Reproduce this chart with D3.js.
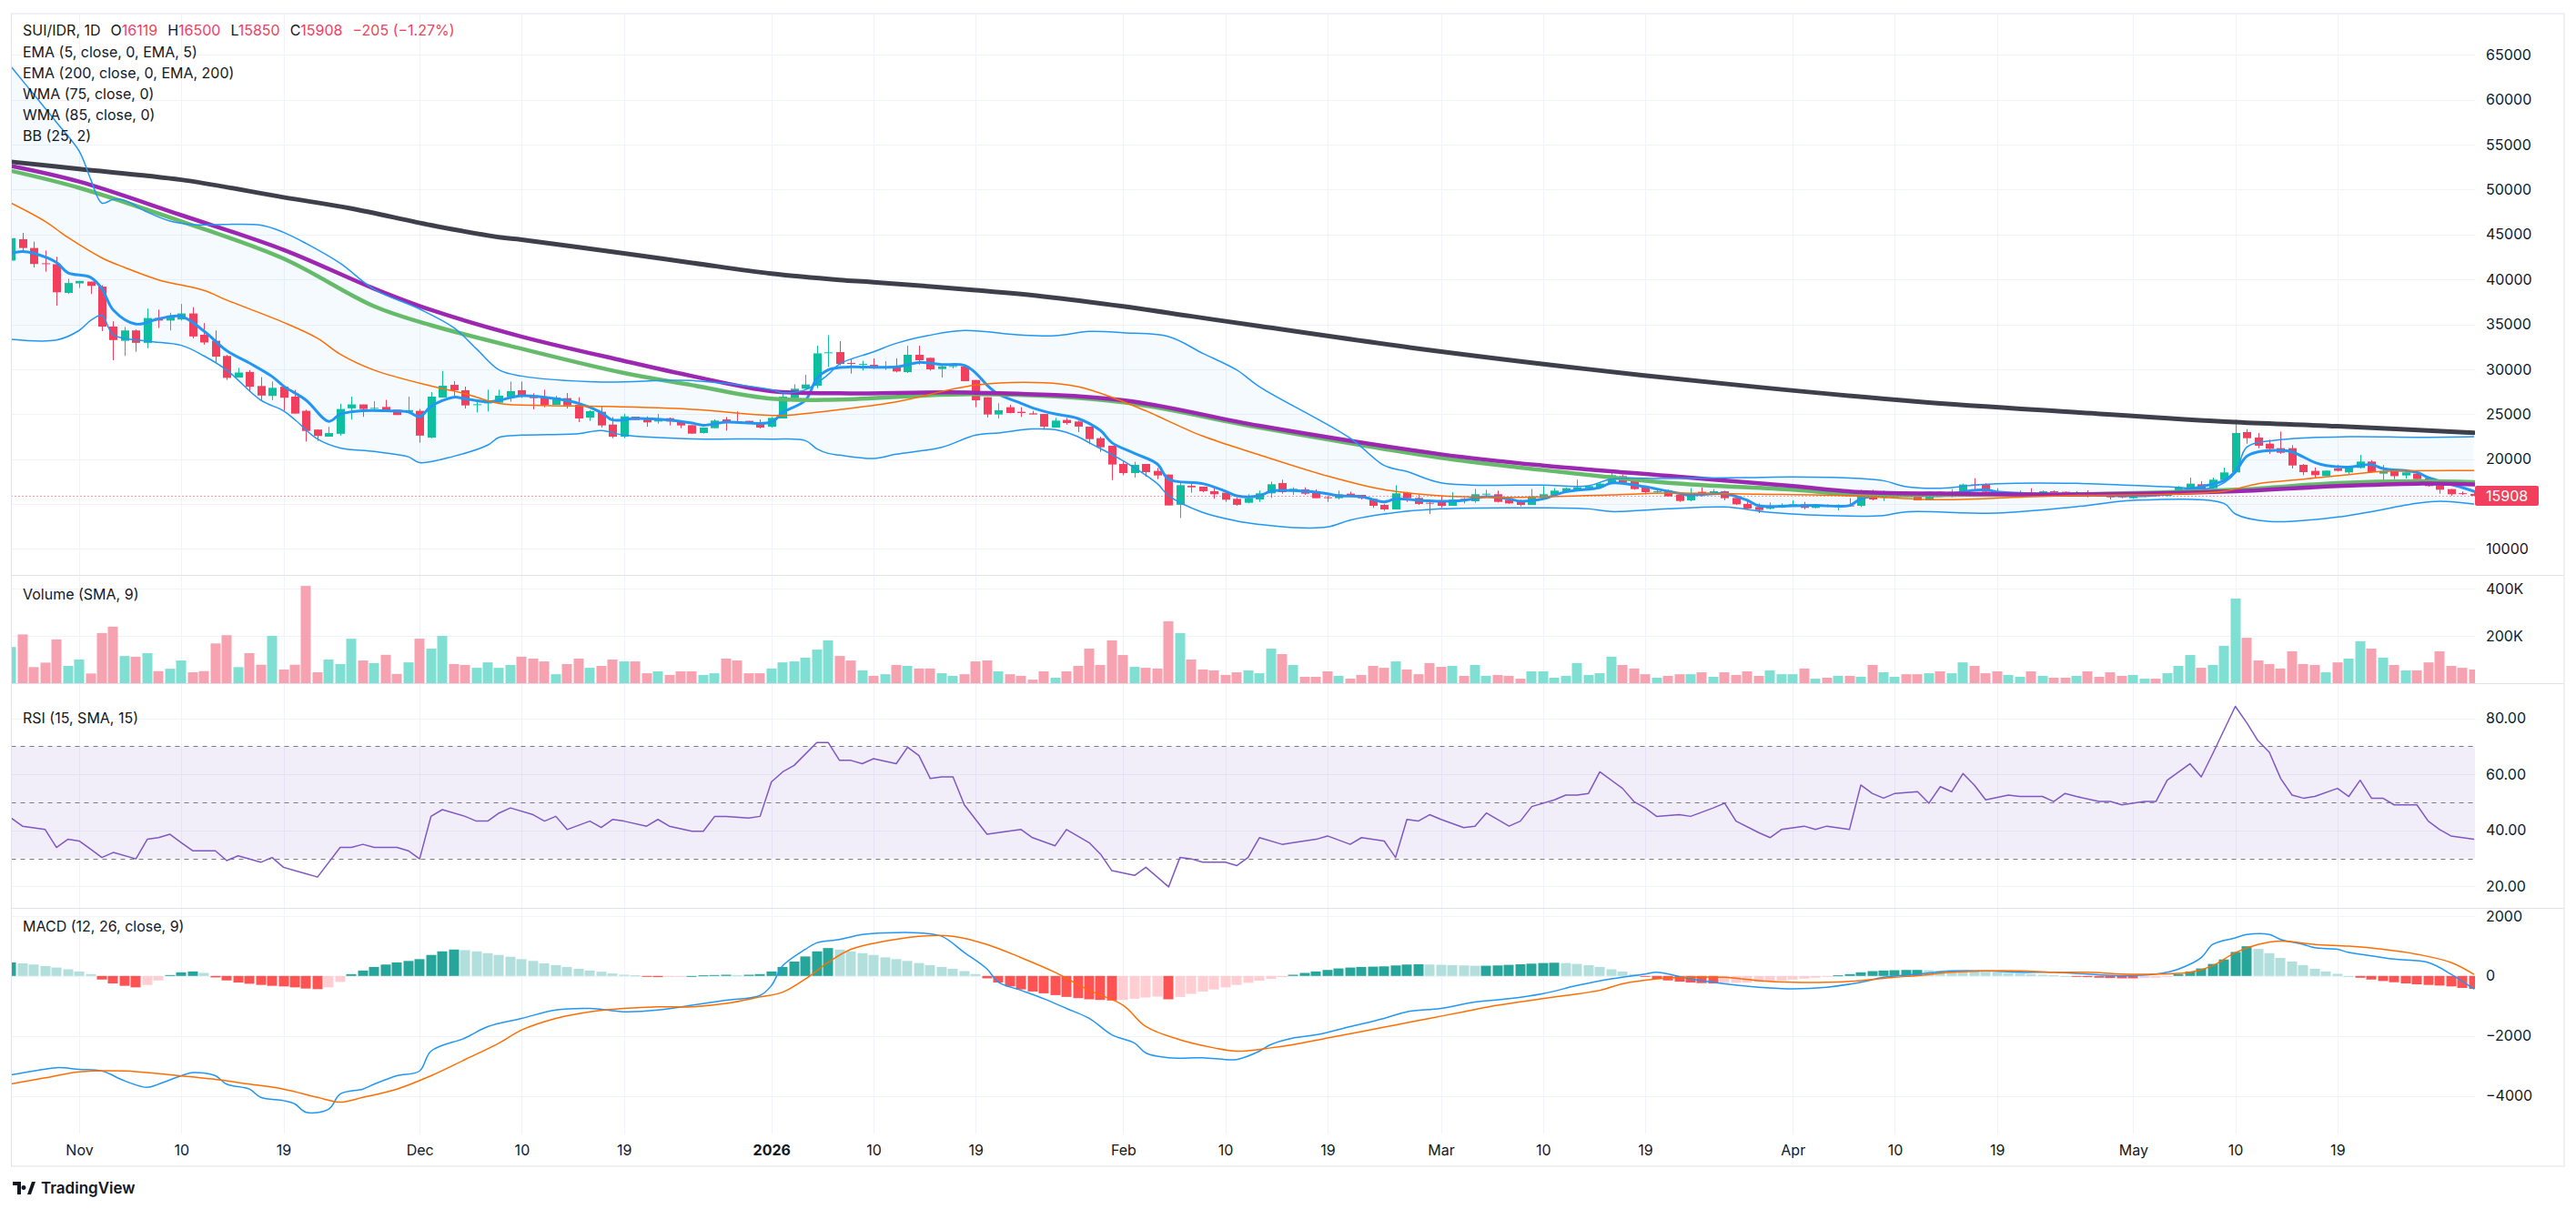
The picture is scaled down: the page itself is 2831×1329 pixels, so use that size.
<!DOCTYPE html>
<html>
<head>
<meta charset="utf-8">
<script src="https://cdn.jsdelivr.net/npm/d3@7/dist/d3.min.js"></script>
<style>
body { margin: 0; background: #fff; }
text { font-family: Inter, "Noto Sans", sans-serif; fill: #131722; }
.axis text { font-size: 16px; }
.legend text { font-size: 16px; white-space: pre; }
</style>
</head>
<body>
<div id="chart-area"></div>
<script>
// SUI/IDR daily, first candle 2025-10-26; "day" = days since that date
const firstDay = "2025-10-26";

// [open, high, low, close]
const ohlc = [
  [42100,44700,41500,44600],[44480,45190,43100,43500],[43500,44210,41330,41720],[41800,43220,40860,41700],[41700,42510,37080,38570],
  [38500,40070,38380,39600],[39560,39830,39050,39830],[39760,39760,38380,39280],[39200,39360,34240,34750],[34750,35340,31000,33250],
  [33170,34710,31480,34320],[34320,34430,31950,32940],[32940,36760,32350,35700],[35700,36640,34590,35420],[35420,36290,34320,35810],
  [35540,37270,35420,36210],[36210,36920,33450,33650],[33840,35140,32740,32980],[33170,34320,30770,31400],[31480,31600,28800,29040],
  [29080,30140,29080,29630],[29700,29900,27460,28050],[28130,29120,26550,27070],[27030,28640,26550,27930],[28050,28050,25370,26830],
  [26950,27700,25050,25060],[25370,25490,21940,23130],[23280,23280,22020,22570],[22490,23600,22490,22890],[22810,26160,22610,25570],
  [25650,26950,24390,26080],[26080,26080,24700,25570],[25600,26440,25370,25700],[25800,26590,25370,25370],[25490,25490,24900,24900],
  [25250,26950,25170,25450],[25370,25570,21820,22610],[22390,27450,22320,26950],[26850,29820,26850,28160],[28260,28670,26980,27660],
  [27660,28060,25630,25970],[26000,26370,25190,26100],[26200,27720,25290,26440],[26270,27720,26140,27050],[26880,28630,26370,27560],
  [27660,28630,26810,26980],[27050,27320,25530,26780],[26850,27720,25770,26040],[26040,27050,26040,26850],[26780,27350,25630,25970],
  [26040,26880,24110,24520],[24620,25430,24250,25330],[25260,25870,23500,23740],[23840,24680,22320,22490],[22490,25020,22320,24750],
  [24720,24720,24350,24350],[24410,24750,23600,24080],[24180,25020,23940,24520],[24550,24620,23740,24180],[24110,24110,23440,23740],
  [23770,23770,22830,22830],[22900,23500,22830,23500],[23440,24410,23440,24280],[24410,24680,23170,24110],[24180,25290,24110,24110],
  [24250,24250,24010,24080],[24010,24410,23400,23500],[23600,24680,23500,24580],[24520,27290,24520,26950],[26780,28330,26640,27830],
  [27830,29380,27830,28300],[28160,32620,27890,31770],[31800,33800,30260,31880],[31910,33130,30430,30590],[30700,31200,29510,30590],
  [30560,30930,29850,30590],[30490,31200,30020,30190],[30190,30900,29920,30320],[30190,31200,29650,29750],[29680,32620,29580,31610],
  [31610,32620,30530,31000],[31270,31270,29850,29990],[30020,30490,29070,30320],[30290,30660,30090,30360],[30320,30490,28670,28670],
  [28800,28800,25770,26540],[26880,26880,24620,24960],[24960,26210,24520,25430],[25770,26040,25090,25120],[25260,25770,24690,25120],
  [25090,25360,24960,24960],[25020,25020,23270,23610],[23500,24580,23500,24280],[24350,24580,23840,24010],[24180,24280,23000,23610],
  [23610,23610,21650,22220],[22320,22490,20800,21310],[21480,21480,17660,19390],[19450,19720,18200,18440],[18440,19690,17930,19350],
  [19450,19450,18040,18540],[18680,19010,17760,18170],[18270,18270,14830,14830],[14900,17430,13440,17090],[17020,17430,16250,16850],
  [16920,16920,16310,16420],[16420,16750,15570,16080],[16250,16250,15230,15470],[15570,15740,14790,14900],[15130,16080,15070,15640],
  [15500,16480,15230,16180],[16180,17490,15670,17190],[17320,17700,16140,16310],[16410,16850,16010,16680],[16620,16850,16010,16140],
  [16280,16620,15640,15640],[15740,15910,15230,15640],[15640,16480,15500,16080],[16140,16350,15910,16010],[16010,16010,15500,15640],
  [15570,15570,14560,14790],[14890,15000,14220,14390],[14390,17090,14390,16180],[16240,16350,15230,15640],[15670,16010,14890,15000],
  [15130,15470,13880,15060],[15230,15810,14560,14790],[14790,16310,14790,15470],[15570,15670,15060,15470],[15300,16680,15130,16080],
  [16080,16580,15740,16140],[16080,16480,15160,15230],[15470,15470,15000,15060],[15230,15470,14730,14890],[14890,16680,14890,15840],
  [15810,16990,15570,16080],[16010,16750,15910,16480],[16410,16850,16240,16750],[16580,17700,16480,16850],[16750,16990,16650,16990],
  [16850,17430,16750,17260],[17320,18440,17260,18200],[18100,18270,17260,17360],[17530,17830,16580,16650],[16850,16850,16080,16310],
  [16310,16680,16180,16410],[16480,16580,15840,15840],[16010,16010,15230,15330],[15400,16750,15300,16010],[16350,16850,15810,16140],
  [16140,16650,16080,16410],[16410,16480,15400,15640],[15670,15910,14890,14960],[15000,15400,14390,14490],[14660,15060,13980,14320],
  [14460,15160,14390,14660],[14620,15060,14560,14890],[14890,15400,14830,14960],[14960,15230,14390,14560],[14560,14960,14490,14890],
  [14890,14960,14660,14730],[14730,14960,14290,14790],[14830,15640,14730,14730],[14790,16580,14660,16310],[16410,16580,15400,15500],
  [15670,16480,15330,16080],[15740,16410,15670,16140],[16240,16410,15740,15910],[16140,16140,15400,15400],[15400,16410,15400,16350],
  [16350,16410,15840,15840],[15810,16650,15740,16350],[16310,17260,16240,17160],[17160,17870,16580,17090],[17190,17320,16240,16350],
  [16410,16750,15810,15910],[15910,16310,15840,16240],[16180,16480,16080,16240],[16240,16750,16010,16080],[16140,16510,16080,16410],
  [16410,16510,16240,16310],[16350,16410,16010,16080],[16080,16410,16010,16300],[16310,16520,15740,15910],[16080,16080,15840,15840],
  [15910,16180,15500,15740],[15910,15980,15640,15740],[15640,15910,15570,15910],[15840,16000,15740,15910],[16000,16080,15840,15910],
  [15910,16480,15840,16180],[16080,16990,15980,16820],[16680,17930,16680,17260],[17190,17530,16680,16680],[16750,17930,16650,17700],
  [17660,19050,17660,18510],[18510,24410,18440,22900],[23000,23330,21710,22320],[22390,22900,21210,21480],[21710,22150,20570,21140],
  [21210,23060,20570,20700],[21210,21550,18950,19280],[19350,19450,18200,18540],[18680,19050,17930,18200],[18100,18710,18100,18710],
  [18950,19350,18610,18680],[18510,19110,18270,19050],[19010,20470,18950,19720],[19720,19860,18440,18540],[18370,19350,17600,18680],
  [18710,18880,17760,18100],[18170,18680,17830,18510],[18370,18680,17700,17760],[17870,18000,16920,16990],[17020,17020,16140,16580],
  [16650,16650,15910,16080],[16200,16380,16000,16113],[16119,16500,15850,15908]
];

// volume, thousands
const volumeK = [
  153,206,68,87,185,73,100,41,212,239, 115,112,127,51,61,96,46,51,168,203,
  68,127,78,200,58,78,411,46,100,81, 188,96,85,120,39,88,188,146,200,81,
  77,65,88,65,77,112,104,92,38,81, 104,65,73,100,92,92,42,50,35,50,
  50,35,42,104,96,42,42,62,88,92, 108,142,181,115,96,54,31,38,77,73,
  62,62,42,31,38,92,96,50,38,31, 15,50,23,50,73,146,77,181,119,69,
  65,62,262,212,100,58,54,35,46,54, 42,146,123,77,27,27,50,31,19,35,
  73,65,92,58,38,85,69,73,31,77, 31,35,31,19,50,50,23,31,85,35,
  42,112,77,62,38,23,31,38,38,46, 27,46,35,50,31,54,38,38,62,19,
  23,31,31,27,77,46,27,38,38,42, 50,42,88,73,42,50,35,27,50,31,
  23,23,31,50,27,46,31,35,19,19, 42,73,119,65,77,158,358,192,96,81,
  62,135,81,77,46,88,104,177,146,108, 77,54,54,88,135,73,65,58
];

// [day, value]
const ema5 = [[0,42910],[1,43100],[2,42910],[4,41900],[5,40740],[7,40230],[8,38970],[9,36600],[11,35030],[13,35620],[15,35890],[17,34240],[19,32070],[21,30690],[23,29190],[24,28130],[26,26550],[28,24190],[29,24980],[31,25370],[33,25370],[35,25250],[36,24700],[37,25870],[39,26880],[40,26710],[42,26370],[43,26540],[45,27050],[48,26710],[50,26200],[52,25190],[53,24350],[55,24520],[58,24350],[60,24010],[61,23770],[63,24110],[67,24110],[68,25190],[70,26540],[71,28970],[72,29920],[73,30190],[74,30260],[78,30260],[80,30760],[82,30530],[84,30430],[85,29580],[86,28230],[87,27220],[89,26200],[90,25700],[92,25020],[94,24520],[96,23170],[97,21820],[99,20630],[101,19450],[102,17760],[105,17260],[107,16420],[108,15910],[110,15900],[111,16410],[113,16480],[116,16140],[117,15910],[119,15810],[121,15230],[122,15570],[124,15400],[126,15300],[128,15400],[130,15810],[132,15570],[133,15300],[135,15570],[137,16350],[140,16820],[141,17320],[144,16920],[146,16410],[148,16010],[151,16140],[153,15400],[154,14790],[157,14790],[159,14830],[162,14830],[163,15570],[165,16010],[167,16080],[170,15910],[172,16350],[174,16580],[175,16350],[178,16140],[182,16100],[186,15910],[189,15970],[191,16410],[193,16920],[195,17600],[196,18610],[197,20300],[198,20800],[200,20970],[201,20800],[203,19620],[204,19280],[206,19110],[208,19380],[209,18950],[212,18510],[213,17930],[216,16820],[217,16410]];
const ema200 = [[0,53100],[6,52300],[15,51100],[24,49150],[30,47900],[37,46050],[43,44700],[45,44430],[54,42900],[60,41850],[67,40650],[73,39950],[76,39700],[85,38800],[91,38100],[98,37000],[104,35900],[110,34800],[124,32300],[139,30000],[154,28000],[168,26400],[182,25200],[196,24100],[205,23650],[217,22930]];
const wma75 = [[0,52090],[6,50200],[15,46460],[24,42320],[32,37000],[37,34900],[45,32280],[54,29580],[60,28230],[67,26710],[73,26620],[85,27220],[98,26310],[110,23500],[126,20130],[135,18780],[146,17360],[157,16580],[163,16010],[172,16010],[182,16060],[196,16580],[205,17330],[212,17530],[217,17430]];
const wma85 = [[0,52640],[6,50900],[15,47160],[24,43300],[32,38970],[37,36600],[45,33630],[54,30930],[60,29240],[67,27550],[73,27320],[85,27390],[98,26540],[110,23700],[126,20530],[135,19280],[146,18130],[157,16990],[163,16310],[172,16140],[182,16050],[196,16410],[205,16990],[212,17260],[217,17160]];
const bbUpper = [[0,63700],[2,60600],[4,57500],[6,54300],[7,51200],[8,48500],[9,48900],[10,48800],[12,47500],[14,46500],[16,46100],[22,46050],[24,45250],[26,44000],[29,41800],[32,38900],[36,36700],[39,34640],[41,32280],[43,29920],[45,29240],[52,28570],[60,28740],[67,27720],[68,27390],[70,27720],[72,29410],[73,30590],[76,31940],[78,32890],[81,33800],[84,34310],[89,33800],[92,33730],[95,34210],[98,34070],[102,33630],[105,31780],[108,29920],[110,28060],[118,22320],[121,19280],[123,18610],[126,17360],[135,17090],[139,17020],[141,17760],[146,17830],[153,17930],[157,18000],[163,17830],[165,17590],[167,16920],[170,16750],[173,17090],[175,17260],[182,17290],[190,16920],[194,16820],[196,18440],[197,21310],[200,22150],[206,22490],[212,22420],[217,22490]];
const bbLower = [[0,33330],[4,33250],[6,34320],[7,35420],[8,36010],[9,33840],[12,33130],[15,32660],[17,31480],[19,29900],[22,26550],[24,25370],[25,24390],[27,22220],[29,21230],[32,20840],[35,20250],[36,19600],[39,20300],[42,21550],[43,22420],[45,22660],[50,22830],[52,23170],[54,22660],[60,22250],[67,22220],[70,22050],[71,21140],[72,20630],[73,20430],[76,20060],[78,20530],[82,21310],[85,22660],[87,22900],[90,23340],[92,23270],[94,22490],[95,21820],[98,19790],[101,17260],[102,15910],[105,14050],[108,13100],[110,12720],[113,12360],[116,12430],[118,13200],[121,13880],[126,14450],[135,14560],[139,14450],[141,14150],[146,14450],[151,14660],[155,14050],[162,13640],[165,13710],[167,14120],[175,13980],[182,14690],[187,15400],[195,15060],[196,13880],[199,13040],[205,13540],[212,15060],[214,15300],[217,15000]];
const bbBasis = [[0,48500],[3,46460],[5,44680],[8,42400],[10,41330],[13,39950],[17,38770],[19,37700],[24,35220],[27,33450],[29,31680],[32,29900],[37,28130],[40,27280],[43,26200],[47,25970],[52,25870],[60,25530],[66,24920],[68,24850],[71,25190],[73,25500],[78,26370],[85,28230],[91,28500],[94,28060],[97,26880],[100,25360],[105,22560],[110,20470],[116,18100],[121,16580],[126,15910],[133,15740],[141,16010],[146,16200],[154,16080],[162,15910],[170,15470],[178,15810],[182,15950],[190,16080],[195,16410],[198,17260],[202,17760],[206,18270],[209,18610],[217,18710]];

const rsi = [[0,44.4],[1,41.5],[3,40.3],[4,33.9],[5,36.8],[6,36.2],[7,33.3],[8,30.3],[9,32.1],[11,29.8],[12,36.8],[13,37.4],[14,38.6],[15,35.6],[16,32.7],[18,32.7],[19,29.2],[20,30.9],[22,28.6],[23,30.3],[24,26.8],[25,25.6],[26,24.5],[27,23.3],[29,33.9],[30,33.9],[31,35],[32,33.9],[34,33.9],[35,32.7],[36,29.8],[37,45],[38,47.4],[40,45],[41,43.3],[42,43.3],[43,46.2],[44,48],[46,45.6],[47,43.3],[48,45],[49,40.3],[51,43.3],[52,41],[53,43.9],[54,43.3],[56,41.5],[57,43.9],[58,41.5],[60,39.7],[61,39.7],[62,45],[63,45],[65,44.4],[66,45],[67,57.3],[68,60.9],[69,63.2],[71,71.4],[72,71.4],[73,65],[74,65],[75,63.8],[76,65.6],[78,63.8],[79,69.7],[80,66.7],[81,58.5],[82,59.1],[83,59.1],[84,49.1],[86,38.6],[87,39.2],[89,40.3],[90,37.4],[92,34.5],[93,40.3],[95,35.6],[96,31.5],[97,25.6],[99,23.9],[100,26.8],[102,19.8],[103,30.3],[104,29.8],[105,28.6],[107,28.6],[108,27.4],[109,30.3],[110,37.4],[112,35],[113,35.6],[115,36.8],[116,38],[118,35],[119,37.4],[121,36.2],[122,30.3],[123,43.9],[124,43.3],[125,45.6],[126,43.9],[128,41],[129,41.5],[130,46.2],[132,41.5],[133,43.3],[134,48.5],[136,50.9],[137,52.6],[138,52.6],[139,53.2],[140,60.9],[142,55],[143,50.3],[144,48],[145,45],[147,45.6],[148,45],[150,48],[151,49.7],[152,43.3],[154,39.2],[155,37.4],[156,40.3],[158,41.5],[159,40.3],[160,41.5],[162,40.3],[163,56.2],[164,53.2],[165,51.5],[166,53.2],[168,53.8],[169,49.7],[170,55.6],[171,53.8],[172,60.3],[173,56.2],[174,50.9],[176,52.6],[177,52.1],[179,52.1],[180,50.3],[181,53.2],[182,52.1],[184,50.3],[185,50.3],[186,49.1],[188,50.3],[189,50.3],[190,57.9],[192,63.8],[193,59.1],[194,67.3],[196,84.3],[197,78.5],[198,72],[199,67.9],[200,58.5],[201,52.6],[202,51.5],[203,52.1],[205,55],[206,52.1],[207,57.9],[208,51.5],[209,51.5],[210,49.1],[212,49.1],[213,43.3],[214,40.3],[215,38],[216,37.4],[217,36.8]];

const macdLine = [[0,-3300],[2,-3170],[4,-3060],[6,-3115],[8,-3170],[10,-3500],[12,-3720],[13,-3610],[15,-3330],[16,-3225],[18,-3330],[19,-3610],[21,-3775],[22,-4050],[24,-4160],[25,-4270],[26,-4550],[28,-4440],[29,-3940],[31,-3775],[32,-3610],[34,-3330],[36,-3170],[37,-2510],[40,-2070],[42,-1690],[45,-1415],[48,-1140],[51,-1085],[54,-1195],[57,-1140],[60,-980],[63,-810],[66,-650],[67,-320],[68,340],[70,890],[71,1105],[73,1215],[75,1380],[77,1435],[80,1435],[82,1325],[84,780],[86,230],[87,-210],[89,-480],[91,-760],[93,-1085],[95,-1415],[97,-1965],[99,-2240],[100,-2570],[102,-2730],[105,-2730],[107,-2790],[108,-2790],[110,-2510],[111,-2290],[113,-2070],[115,-1965],[118,-1690],[121,-1415],[123,-1195],[126,-1085],[129,-870],[132,-760],[135,-590],[138,-320],[141,-100],[144,60],[145,120],[148,-100],[151,-265],[154,-375],[157,-430],[160,-375],[163,-210],[165,-45],[168,60],[171,170],[174,170],[177,120],[180,120],[183,60],[186,10],[189,60],[191,230],[193,610],[194,1050],[196,1270],[197,1380],[199,1380],[200,1215],[202,1050],[203,940],[205,890],[206,780],[208,670],[210,560],[213,450],[215,60],[217,-430]];
const macdSignal = [[0,-3600],[3,-3400],[6,-3200],[10,-3170],[14,-3300],[18,-3450],[21,-3610],[24,-3775],[27,-4050],[29,-4210],[31,-4050],[34,-3775],[37,-3330],[40,-2790],[43,-2240],[45,-1800],[48,-1415],[51,-1195],[54,-1085],[57,-1030],[60,-1030],[63,-920],[66,-700],[68,-540],[70,-100],[72,450],[74,890],[77,1160],[80,1325],[83,1325],[86,1050],[89,610],[92,120],[95,-480],[98,-980],[100,-1690],[103,-2130],[106,-2400],[108,-2510],[111,-2400],[113,-2290],[116,-2070],[119,-1855],[122,-1635],[125,-1415],[128,-1195],[131,-980],[134,-810],[137,-650],[140,-480],[142,-265],[145,-100],[148,-45],[151,-45],[154,-155],[157,-210],[160,-210],[163,-155],[166,-45],[168,10],[171,120],[174,170],[177,170],[180,120],[183,120],[186,60],[189,60],[192,120],[194,340],[196,780],[198,1050],[200,1160],[203,1050],[206,995],[209,890],[212,725],[215,450],[217,60]];
// histogram, one per candle
const macdHist = [
  450,420,380,330,280,220,150,60,-120,-250, -330,-380,-300,-150,30,120,150,100,-50,-150,
  -220,-260,-300,-330,-350,-380,-420,-440,-380,-200, 60,180,300,380,450,500,560,700,820,880,
  860,820,760,700,640,560,500,420,360,300, 240,180,140,80,40,20,-20,-40,-30,-20,
  0,20,30,40,30,40,60,150,300,480, 650,820,930,880,820,760,700,620,560,500,
  430,360,300,240,160,60,-80,-220,-350,-450, -520,-580,-640,-700,-740,-780,-800,-820,-800,-760,
  -720,-690,-780,-700,-600,-520,-450,-380,-300,-230, -160,-100,-40,40,100,150,200,250,280,300,
  310,320,350,380,390,380,370,360,350,340, 340,350,370,390,410,430,440,430,400,360,
  300,220,150,60,-30,-100,-150,-190,-220,-240, -250,-240,-230,-220,-200,-180,-150,-120,-90,-60,
  -30,20,60,120,160,180,190,200,200,190, 180,170,160,150,140,120,100,80,60,40,
  20,0,-20,-40,-60,-70,-80,-80,-70,-60, -20,60,150,250,400,550,800,990,900,760,
  600,480,360,240,150,70,0,-60,-120,-170, -210,-250,-280,-300,-320,-350,-400,-430
];

const priceTicks = [10000,15000,20000,25000,30000,35000,40000,45000,50000,55000,60000,65000];
const volumeTicks = [200,400];
const rsiTicks = [20,40,60,80];
const rsiLevels = [70,50,30];
const macdTicks = [-4000,-2000,0,2000];
const timeTicks = [
  ["2025-11-01","Nov"],["2025-11-10","10"],["2025-11-19","19"],["2025-12-01","Dec"],["2025-12-10","10"],["2025-12-19","19"],
  ["2026-01-01","2026"],["2026-01-10","10"],["2026-01-19","19"],["2026-02-01","Feb"],["2026-02-10","10"],["2026-02-19","19"],
  ["2026-03-01","Mar"],["2026-03-10","10"],["2026-03-19","19"],["2026-04-01","Apr"],["2026-04-10","10"],["2026-04-19","19"],
  ["2026-05-01","May"],["2026-05-10","10"],["2026-05-19","19"]
];
const lastClose = 15908;

const chartSize = { width: 2831, height: 1329 };
const plotLeft = 12.5, plotRight = 2720, axisRight = 2818;
const panes = {
  main: { top: 15, bottom: 632 },
  volume: { top: 632, bottom: 751 },
  rsi: { top: 751, bottom: 998 },
  macd: { top: 998, bottom: 1246 }
};
const timeAxisBottom = 1282;
const upColor = "#0DBF9E", downColor = "#F23F5E";

const parseDay = d3.utcParse("%Y-%m-%d");
const start = parseDay(firstDay);
const dayDate = d => d3.utcDay.offset(start, d);

const x = d3.scaleUtc().domain([dayDate(0), dayDate(ohlc.length - 1)]).range([12.2, 2718.5]);
const yPrice = d3.scaleLinear().domain([10000, 65000]).range([603.3, 60.4]);
const yVol = d3.scaleLinear().domain([0, 400]).range([751, 647]);
const yRsi = d3.scaleLinear().domain([20, 80]).range([974.3, 789.7]);
const yMacd = d3.scaleLinear().domain([-4000, 2000]).range([1204.6, 1006.9]);

const svg = d3.select("#chart-area").append("svg")
  .attr("width", chartSize.width).attr("height", chartSize.height);
const defs = svg.append("defs");
Object.entries(panes).forEach(([k, p]) => {
  defs.append("clipPath").attr("id", "clip-" + k).append("rect")
    .attr("x", plotLeft).attr("y", p.top).attr("width", plotRight - plotLeft).attr("height", p.bottom - p.top);
});

const curve = d3.curveCatmullRom.alpha(0.5);
const lineFor = (y, c) => d3.line().x(d => x(dayDate(d[0]))).y(d => y(d[1])).curve(c || curve);

// grid
const grid = svg.append("g").attr("stroke", "#F0F3FA").attr("stroke-width", 1);
grid.selectAll(".vgrid").data(timeTicks).join("line")
  .attr("x1", d => Math.round(x(parseDay(d[0]))) + 0.5).attr("x2", d => Math.round(x(parseDay(d[0]))) + 0.5)
  .attr("y1", panes.main.top).attr("y2", panes.macd.bottom);
const hgrid = (ticks, y) => grid.append("g").selectAll("line").data(ticks).join("line")
  .attr("x1", plotLeft).attr("x2", plotRight)
  .attr("y1", d => Math.round(y(d)) + 0.5).attr("y2", d => Math.round(y(d)) + 0.5);
hgrid(priceTicks, yPrice);
hgrid(volumeTicks, yVol);
hgrid(rsiTicks, yRsi);
hgrid(macdTicks, yMacd);

// ---------- main pane
const mainG = svg.append("g").attr("clip-path", "url(#clip-main)");
const upperPath = lineFor(yPrice)(bbUpper);
const lowerPath = lineFor(yPrice)(bbLower.slice().reverse());
mainG.append("path").attr("d", upperPath + "L" + lowerPath.slice(1) + "Z")
  .attr("fill", "rgba(33,150,243,0.05)");

const candle = mainG.append("g").selectAll("g").data(ohlc).join("g")
  .attr("fill", d => d[3] >= d[0] ? upColor : downColor)
  .attr("stroke", d => d[3] >= d[0] ? upColor : downColor);
candle.append("line")
  .attr("x1", (d, i) => Math.round(x(dayDate(i))) + 0.5).attr("x2", (d, i) => Math.round(x(dayDate(i))) + 0.5)
  .attr("y1", d => yPrice(d[1])).attr("y2", d => yPrice(d[2])).attr("stroke-width", 1);
candle.append("rect").attr("stroke", "none")
  .attr("x", (d, i) => Math.round(x(dayDate(i))) - 4)
  .attr("width", 9)
  .attr("y", d => yPrice(Math.max(d[0], d[3])))
  .attr("height", d => Math.max(1, Math.abs(yPrice(d[0]) - yPrice(d[3]))));

const drawLine = (g, data, y, color, width, c) => g.append("path").attr("d", lineFor(y, c)(data))
  .attr("fill", "none").attr("stroke", color).attr("stroke-width", width)
  .attr("stroke-linejoin", "round").attr("stroke-linecap", "round");
drawLine(mainG, ema5, yPrice, "#2196F3", 3);
drawLine(mainG, ema200, yPrice, "#3E3F4A", 5);
drawLine(mainG, wma75, yPrice, "#66BB6A", 4.5);
drawLine(mainG, wma85, yPrice, "#9C27B0", 4.5);
drawLine(mainG, bbUpper, yPrice, "#2196F3", 1.5);
drawLine(mainG, bbLower, yPrice, "#2196F3", 1.5);
drawLine(mainG, bbBasis, yPrice, "#FF6D00", 1.5);

mainG.append("line").attr("x1", plotLeft).attr("x2", plotRight)
  .attr("y1", Math.round(yPrice(lastClose)) + 0.5).attr("y2", Math.round(yPrice(lastClose)) + 0.5)
  .attr("stroke", downColor).attr("stroke-width", 1).attr("stroke-dasharray", "1,3");

// ---------- volume
const volG = svg.append("g").attr("clip-path", "url(#clip-volume)");
volG.selectAll("rect").data(volumeK).join("rect")
  .attr("x", (d, i) => Math.round(x(dayDate(i))) - 5.5)
  .attr("width", 11)
  .attr("y", d => yVol(d))
  .attr("height", d => yVol(0) - yVol(d))
  .attr("fill", (d, i) => ohlc[i][3] >= ohlc[i][0] ? "#7FDFD3" : "#F7A2B0");

// ---------- RSI
const rsiG = svg.append("g").attr("clip-path", "url(#clip-rsi)");
rsiG.append("rect").attr("x", plotLeft).attr("width", plotRight - plotLeft)
  .attr("y", yRsi(70)).attr("height", yRsi(30) - yRsi(70)).attr("fill", "rgba(126,87,194,0.1)");
rsiG.selectAll(".lvl").data(rsiLevels).join("line")
  .attr("x1", plotLeft).attr("x2", plotRight)
  .attr("y1", d => Math.round(yRsi(d)) + 0.5).attr("y2", d => Math.round(yRsi(d)) + 0.5)
  .attr("stroke", "#787B86").attr("stroke-dasharray", "5,5");
drawLine(rsiG, rsi, yRsi, "#7E57C2", 1.5, d3.curveLinear);

// ---------- MACD
const macdG = svg.append("g").attr("clip-path", "url(#clip-macd)");
macdG.selectAll("rect").data(macdHist).join("rect")
  .attr("x", (d, i) => Math.round(x(dayDate(i))) - 5.5)
  .attr("width", 11)
  .attr("y", d => Math.min(yMacd(0), yMacd(d)))
  .attr("height", d => Math.max(1, Math.abs(yMacd(d) - yMacd(0))))
  .attr("fill", (d, i) => {
    const prev = i > 0 ? macdHist[i - 1] : d;
    if (d >= 0) return d >= prev ? "#26A69A" : "#B2DFDB";
    return d <= prev ? "#FF5252" : "#FFCDD2";
  });
drawLine(macdG, macdLine, yMacd, "#2196F3", 1.5);
drawLine(macdG, macdSignal, yMacd, "#FF6D00", 1.5);

// ---------- frames
const frame = svg.append("g").attr("stroke", "#E0E3EB").attr("stroke-width", 1).attr("fill", "none");
frame.append("rect").attr("x", plotLeft).attr("y", panes.main.top)
  .attr("width", axisRight - plotLeft).attr("height", timeAxisBottom - panes.main.top);
[panes.volume.top, panes.rsi.top, panes.macd.top].forEach(yy => frame.append("line")
  .attr("x1", plotLeft).attr("x2", axisRight).attr("y1", yy + 0.5).attr("y2", yy + 0.5));

// ---------- axes
const rightAxis = (scale, ticks, fmt) => {
  const g = svg.append("g").attr("class", "axis").attr("transform", `translate(${plotRight},0)`)
    .call(d3.axisRight(scale).tickValues(ticks).tickSize(0).tickPadding(12).tickFormat(fmt));
  g.select(".domain").remove();
  g.selectAll("text").attr("fill", "#131722").style("font-size", "16px");
  return g;
};
// the 15000 label sits under the last-price tag, as in TradingView
rightAxis(yPrice, priceTicks.filter(v => Math.abs(yPrice(v) - yPrice(lastClose)) > 20), d3.format("d"));
rightAxis(yVol, volumeTicks, d => d + "K");
rightAxis(yRsi, rsiTicks, d3.format(".2f"));
rightAxis(yMacd, macdTicks, d3.format("d"));

const timeG = svg.append("g").attr("class", "axis").attr("transform", `translate(0,${panes.macd.bottom})`)
  .call(d3.axisBottom(x).tickValues(timeTicks.map(d => parseDay(d[0]))).tickSize(0).tickPadding(13)
    .tickFormat((d, i) => timeTicks[i][1]));
timeG.select(".domain").remove();
timeG.selectAll("text").attr("fill", "#131722").style("font-size", "16px")
  .style("font-weight", (d, i) => timeTicks[i][1] === "2026" ? 700 : 400);

// last price label
const priceY = yPrice(lastClose);
svg.append("rect").attr("x", plotRight).attr("y", priceY - 11).attr("width", 70).attr("height", 22)
  .attr("rx", 2).attr("fill", downColor);
svg.append("text").attr("x", plotRight + 12).attr("y", priceY).attr("dy", "0.35em")
  .style("font-size", "16px").style("fill", "#fff").text(d3.format("d")(lastClose));

// ---------- legends
const legend = svg.append("g").attr("class", "legend");
const head = legend.append("text").attr("x", 25).attr("y", 33).attr("dy", "0.35em");
head.append("tspan").text("SUI/IDR, 1D");
[["O", ohlc[ohlc.length - 1][0]], ["H", ohlc[ohlc.length - 1][1]], ["L", ohlc[ohlc.length - 1][2]], ["C", lastClose]]
  .forEach(([k, v]) => {
    head.append("tspan").attr("dx", 11).text(k);
    head.append("tspan").style("fill", downColor).text(v);
  });
head.append("tspan").attr("dx", 11).style("fill", downColor).text("\u2212205 (\u22121.27%)");
["EMA (5, close, 0, EMA, 5)", "EMA (200, close, 0, EMA, 200)", "WMA (75, close, 0)", "WMA (85, close, 0)", "BB (25, 2)"]
  .forEach((t, i) => legend.append("text").attr("x", 25).attr("y", 57 + i * 23.1).attr("dy", "0.35em").text(t));
legend.append("text").attr("x", 25).attr("y", 653).attr("dy", "0.35em").text("Volume (SMA, 9)");
legend.append("text").attr("x", 25).attr("y", 789).attr("dy", "0.35em").text("RSI (15, SMA, 15)");
legend.append("text").attr("x", 25).attr("y", 1018).attr("dy", "0.35em").text("MACD (12, 26, close, 9)");

// watermark
const logo = svg.append("g").attr("transform", "translate(14,1306)");
logo.append("path").attr("d", "M0,-7 h9 v14 h-4 v-10 h-5 z M12,-3 a2.5,2.5 0 1,0 0.01,0 M16,7 l5,-14 h4 l-5,14 z").attr("fill", "#131722");
logo.append("text").attr("x", 31).attr("dy", "0.35em").style("font-size", "17px").style("font-weight", 600).text("TradingView");
</script>
</body>
</html>
